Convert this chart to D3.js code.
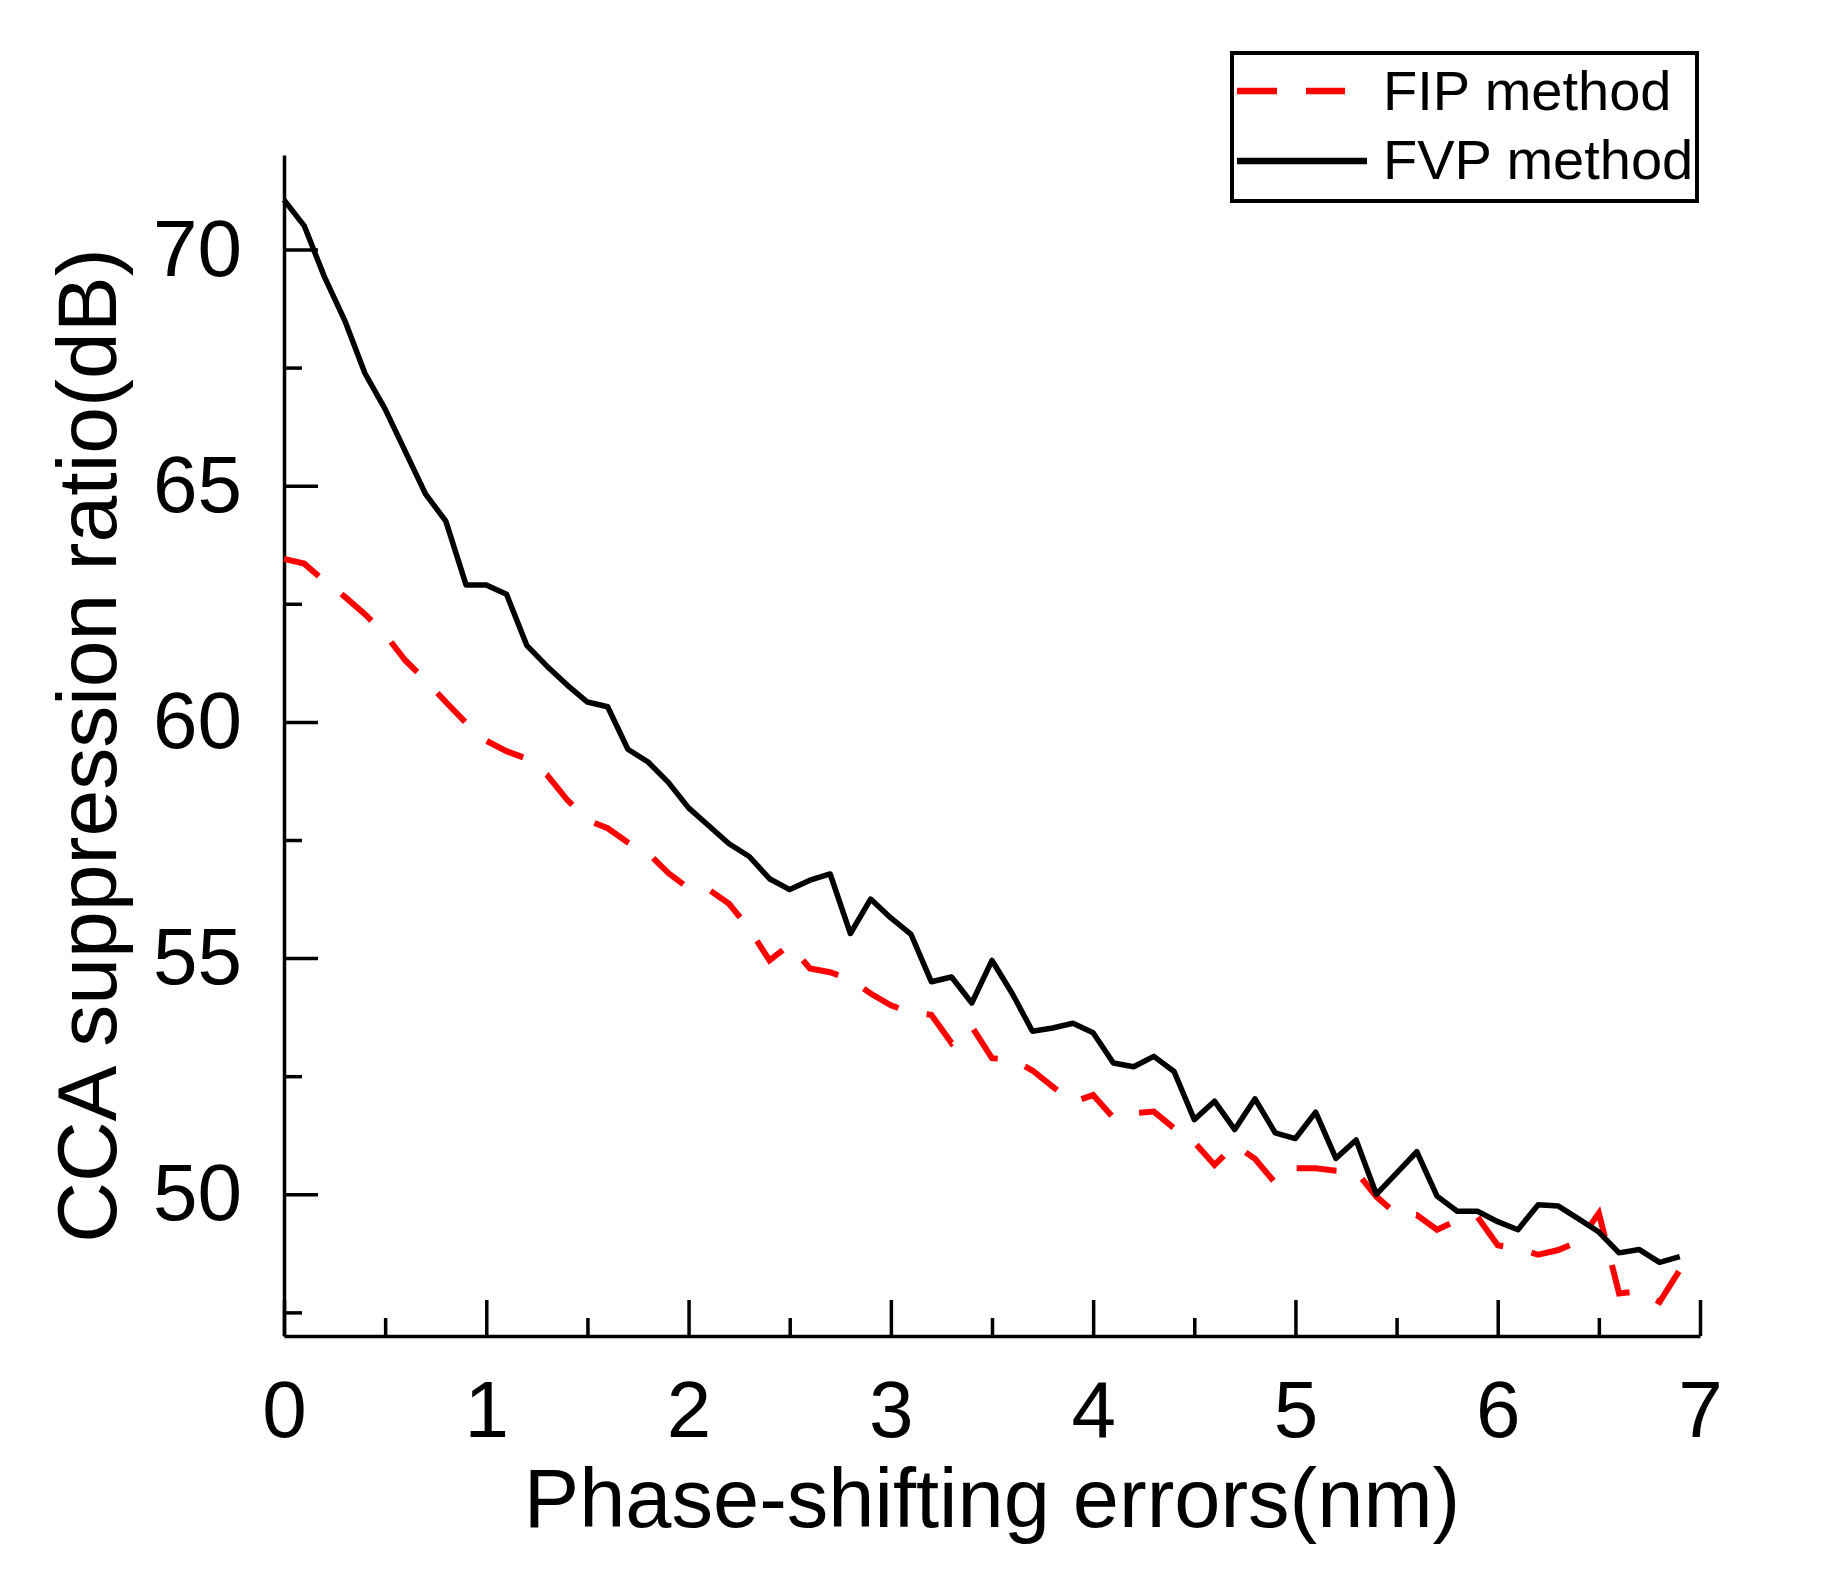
<!DOCTYPE html>
<html>
<head>
<meta charset="utf-8">
<script src="https://cdn.jsdelivr.net/npm/d3@7"></script>
<style>
  body { margin: 0; background: #fff; }
  svg { display: block; }
  text { font-family: "Liberation Sans", Arial, sans-serif; fill: #000; }
</style>
</head>
<body>
<svg id="chart" width="1822" height="1571"></svg>
<script>
// phase-shifting error samples (nm)
const errors = [
  0.0, 0.1, 0.2, 0.3, 0.4, 0.5, 0.6, 0.7, 0.8, 0.9,
  1.0, 1.1, 1.2, 1.3, 1.4, 1.5, 1.6, 1.7, 1.8, 1.9,
  2.0, 2.1, 2.2, 2.3, 2.4, 2.5, 2.6, 2.7, 2.8, 2.9,
  3.0, 3.1, 3.2, 3.3, 3.4, 3.5, 3.6, 3.7, 3.8, 3.9,
  4.0, 4.1, 4.2, 4.3, 4.4, 4.5, 4.6, 4.7, 4.8, 4.9,
  5.0, 5.1, 5.2, 5.3, 5.4, 5.5, 5.6, 5.7, 5.8, 5.9,
  6.0, 6.1, 6.2, 6.3, 6.4, 6.5, 6.6, 6.7, 6.8, 6.9
];

// CCA suppression ratio (dB), FVP method
const fvp = [
  71.05, 70.5, 69.42, 68.5, 67.38, 66.62, 65.72, 64.82, 64.25, 62.9,
  62.9, 62.7, 61.62, 61.18, 60.78, 60.42, 60.32, 59.42, 59.15, 58.72,
  58.18, 57.8, 57.42, 57.15, 56.68, 56.45, 56.65, 56.78, 55.52, 56.25,
  55.85, 55.5, 54.5, 54.6, 54.05, 54.95, 54.25, 53.45, 53.52, 53.62,
  53.42, 52.78, 52.7, 52.92, 52.6, 51.58, 51.97, 51.37, 52.02, 51.3,
  51.18, 51.74, 50.76, 51.15, 50.0, 50.45, 50.9, 49.96, 49.64, 49.64,
  49.42, 49.25, 49.78, 49.75, 49.48, 49.2, 48.76, 48.83, 48.56, 48.68
];

// CCA suppression ratio (dB), FIP method
const fip = [
  63.45, 63.35, 62.98, 62.65, 62.28, 61.85, 61.3, 60.88, 60.42, 59.98,
  59.6, 59.38, 59.22, 58.88, 58.35, 57.92, 57.75, 57.45, 57.22, 56.8,
  56.48, 56.45, 56.15, 55.62, 54.95, 55.28, 54.78, 54.7, 54.55, 54.25,
  54.0, 53.85, 53.8, 53.2, 53.55, 52.88, 52.85, 52.62, 52.28, 51.95,
  52.1, 51.62, 51.72, 51.75, 51.4, 51.1, 50.62, 51.05, 50.75, 50.24,
  50.55, 50.55, 50.5, 50.48, 49.95, 49.58, 49.56, 49.25, 49.45, 49.52,
  48.92, 48.85, 48.72, 48.82, 49.0, 49.6, 47.9, 47.95, 47.72, 48.4
];

const xMajor = [0, 1, 2, 3, 4, 5, 6, 7];
const xMinor = [0.5, 1.5, 2.5, 3.5, 4.5, 5.5, 6.5];
const yMajor = [50, 55, 60, 65, 70];
const yMinor = [47.5, 52.5, 57.5, 62.5, 67.5];

const legendItems = ['FIP method', 'FVP method'];

const svg = d3.select('#chart');

let x = d3.scaleLinear().domain([0, 7]).range([284, 1700]);
let y = d3.scaleLinear().domain([47, 72]).range([1336, 155]);

// x axis, ticks pointing inward
svg.append('g')
  .attr('transform', `translate(0,${y(47)})`)
  .call(d3.axisBottom(x).tickValues(xMinor).tickSizeInner(-18).tickSizeOuter(0).tickFormat(''))
  .call(g => g.select('.domain').remove());

let gx = svg.append('g')
  .attr('transform', `translate(0,${y(47)})`)
  .call(d3.axisBottom(x).tickValues(xMajor).tickSizeInner(-36).tickSizeOuter(0).tickPadding(44).tickFormat(d3.format('d')));

// y axis
svg.append('g')
  .attr('transform', `translate(${x(0)},0)`)
  .call(d3.axisLeft(y).tickValues(yMinor).tickSizeInner(-18).tickSizeOuter(0).tickFormat(''))
  .call(g => g.select('.domain').remove());

let gy = svg.append('g')
  .attr('transform', `translate(${x(0)},0)`)
  .call(d3.axisLeft(y).tickValues(yMajor).tickSizeInner(-34).tickSizeOuter(0).tickPadding(42).tickFormat(d3.format('d')));

svg.selectAll('.domain').attr('stroke', '#000').attr('stroke-width', 3.5);
svg.selectAll('.tick line').attr('stroke', '#000').attr('stroke-width', 3.5);
svg.selectAll('.tick text')
  .attr('font-size', 80)
  .attr('font-family', '"Liberation Sans", Arial, sans-serif')
  .attr('fill', '#000');

// axis titles
svg.append('text')
  .attr('x', (x(0) + x(7)) / 2)
  .attr('y', 1527)
  .attr('text-anchor', 'middle')
  .attr('font-size', 83)
  .text('Phase-shifting errors(nm)');

svg.append('text')
  .attr('transform', `translate(116,${(y(47) + y(72)) / 2}) rotate(-90)`)
  .attr('text-anchor', 'middle')
  .attr('font-size', 84)
  .text('CCA suppression ratio(dB)');

// lines
let line = d3.line()
  .x((d, i) => x(errors[i]))
  .y(d => y(d));

svg.append('path')
  .datum(fip)
  .attr('d', line)
  .attr('fill', 'none')
  .attr('stroke', '#ff0000')
  .attr('stroke-width', 6)
  .attr('stroke-dasharray', '40,29');

svg.append('path')
  .datum(fvp)
  .attr('d', line)
  .attr('fill', 'none')
  .attr('stroke', '#000')
  .attr('stroke-width', 5.5)
  .attr('stroke-linejoin', 'round');

// legend
let legend = svg.append('g');
legend.append('rect')
  .attr('x', 1232).attr('y', 53)
  .attr('width', 465).attr('height', 148)
  .attr('fill', '#fff')
  .attr('stroke', '#000')
  .attr('stroke-width', 4);

legend.selectAll('line.key')
  .data(legendItems)
  .join('line')
  .attr('class', 'key')
  .attr('x1', 1237)
  .attr('x2', (d, i) => i === 0 ? 1345 : 1367)
  .attr('y1', (d, i) => 91 + i * 70)
  .attr('y2', (d, i) => 91 + i * 70)
  .attr('stroke', (d, i) => i === 0 ? '#ff0000' : '#000')
  .attr('stroke-width', 6.5)
  .attr('stroke-dasharray', (d, i) => i === 0 ? '40,29' : null);

legend.selectAll('text.key')
  .data(legendItems)
  .join('text')
  .attr('class', 'key')
  .attr('x', 1383)
  .attr('y', (d, i) => 110 + i * 69)
  .attr('font-size', 56)
  .text(d => d);
</script>
</body>
</html>
